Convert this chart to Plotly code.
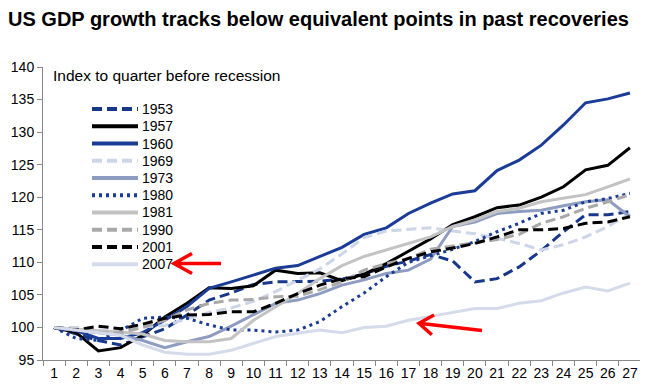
import plotly.graph_objects as go

# ---------------- data ----------------
quarters = [str(i) for i in range(1, 28)]
y_ticks = [95, 100, 105, 110, 115, 120, 125, 130, 135, 140]

s1953 = [100, 99, 98, 97.3, 98.6, 99.8, 101.9, 104.2, 105.3, 106.6, 107, 107, 107.1, 107.4, 108.2, 109.4, 110.2, 111.2, 110.2, 107, 107.5, 109.3, 111.8, 114.7, 117.3, 117.3, 117.8]
s1957 = [100, 99.2, 96.4, 96.9, 98.8, 101.6, 103.7, 106.1, 106, 106.4, 108.8, 108.3, 108.4, 107.2, 108.2, 109.8, 111.7, 113.6, 115.8, 117, 118.4, 118.8, 120, 121.6, 124.2, 124.9, 127.6]
s1960 = [100, 99.5, 98.3, 98.3, 99.2, 101.1, 103.2, 106, 107, 108.1, 109.1, 109.5, 110.9, 112.3, 114.3, 115.3, 117.5, 119.1, 120.5, 121, 124.1, 125.7, 128, 131.1, 134.5, 135.1, 136]
s1969 = [100, 100, 99.6, 99.3, 100.1, 100.3, 101.3, 102.3, 103, 104, 105.5, 107.2, 109, 111.3, 113.8, 114.8, 115, 115.3, 114.8, 114.4, 113.7, 112.9, 111.9, 112.7, 113.9, 115.5, 117.5]
s1973 = [100, 99.6, 99.2, 98.8, 98, 96.9, 97.8, 98.6, 100.2, 102, 103.7, 104.2, 105.2, 106.5, 107.3, 108.3, 108.8, 110.5, 115.5, 116.2, 117.5, 117.8, 118, 118.7, 119.3, 119.6, 117]
s1980 = [100, 98.3, 98, 99.5, 101.4, 101.6, 101.4, 100.4, 99.6, 99.6, 99.3, 99.6, 100.9, 103.2, 105.3, 107.8, 110, 111, 112, 113.2, 114.7, 116, 117.5, 118, 119.3, 119.8, 120.6]
s1981 = [100, 99.7, 99.5, 99.3, 99, 98, 97.8, 97.8, 98.3, 101.1, 103.2, 105.2, 107.5, 109.5, 110.9, 111.9, 112.9, 113.9, 115.5, 116.5, 117.8, 118.3, 119.3, 119.8, 120.4, 121.6, 122.8]
s1990 = [100, 99.6, 99.2, 99.2, 100, 101.1, 102.7, 103.7, 104.2, 104.3, 104.7, 104.8, 105.8, 107, 108.8, 109.8, 110.6, 112, 112.5, 113, 113.5, 114.3, 116, 117, 118.3, 119.3, 120.4]
s2001 = [100, 99.6, 100.2, 99.8, 100.5, 101.4, 101.9, 102, 102.4, 102.4, 103.7, 105.2, 106.5, 107.5, 107.8, 109.3, 110.6, 111.6, 112.2, 112.9, 113.9, 115, 115, 115.2, 116, 116.2, 117]
s2007 = [100, 99.6, 99.3, 98.8, 97.3, 96.2, 95.9, 95.9, 96.5, 97.6, 98.6, 99.1, 99.6, 99.2, 100, 100.2, 101.1, 101.7, 102.3, 102.9, 102.9, 103.7, 104.1, 105.3, 106.2, 105.6, 106.8]

series_names = ["1953", "1957", "1960", "1969", "1973", "1980", "1981", "1990", "2001", "2007"]
series_values = [s1953, s1957, s1960, s1969, s1973, s1980, s1981, s1990, s2001, s2007]

title_text = "US GDP growth tracks below equivalent points in past recoveries"
index_note = "Index to quarter before recession"

# ---------------- styles ----------------
DASH = "10px,5px"
DOT = "3px,4px"
styles = {
    "1953": dict(color="#17378a", dash=DASH, width=3),
    "1957": dict(color="#000000", dash="solid", width=3),
    "1960": dict(color="#1a3c96", dash="solid", width=3),
    "1969": dict(color="#cdd5e8", dash=DASH, width=3),
    "1973": dict(color="#8d9cc0", dash="solid", width=3),
    "1980": dict(color="#1a3c96", dash=DOT, width=3),
    "1981": dict(color="#c3c3c3", dash="solid", width=3),
    "1990": dict(color="#a9a9a9", dash=DASH, width=3),
    "2001": dict(color="#000000", dash=DASH, width=3),
    "2007": dict(color="#d5dbeb", dash="solid", width=3),
}

# the page body has an 8px margin, so the figure is shifted by that much
PAGE_W, PAGE_H, OFF = 648, 391, 8
W, H = PAGE_W - OFF, PAGE_H - OFF
# plot area in page pixels
PL, PR, PT, PB = 43, 641, 67, 360
L, R, T, B = PL - OFF, PAGE_W - PR, PT - OFF, PAGE_H - PB


def px(x):  # page pixel -> paper
    return (x - PL) / (PR - PL)


def py(y):
    return (PB - y) / (PB - PT)


FONT = "Arial, Liberation Sans, sans-serif"

fig = go.Figure()
for name, vals in zip(series_names, series_values):
    st = styles[name]
    fig.add_trace(go.Scatter(
        x=quarters, y=vals, mode="lines", name=name, showlegend=False,
        line=dict(color=st["color"], dash=st["dash"], width=st["width"]),
        hoverinfo="x+y+name",
    ))

shapes = []
annotations = []

# manual legend (matches the compact spacing of the original)
leg_x0, leg_x1, leg_tx = 92, 138, 140
leg_y0, leg_dy = 109, 17.25
for i, name in enumerate(series_names):
    st = styles[name]
    yy = leg_y0 + i * leg_dy
    shapes.append(dict(type="line", xref="paper", yref="paper",
                       x0=px(leg_x0), x1=px(leg_x1), y0=py(yy), y1=py(yy),
                       line=dict(color=st["color"], width=4, dash=st["dash"])))
    annotations.append(dict(xref="paper", yref="paper", x=px(leg_tx), y=py(yy),
                            text=name, showarrow=False, xanchor="left", yanchor="middle",
                            font=dict(family=FONT, size=14, color="#000")))

annotations.append(dict(xref="paper", yref="paper", x=px(51), y=py(75.5),
                        text=index_note, showarrow=False, xanchor="left", yanchor="middle",
                        font=dict(family=FONT, size=15.5, color="#000")))


def arrow(tail, head, arm_back, arm_side):
    (tx, ty), (hx, hy) = tail, head
    dx, dy = hx - tx, hy - ty
    n = (dx * dx + dy * dy) ** 0.5
    ux, uy = dx / n, dy / n
    pxv, pyv = -uy, ux
    a1 = (hx - ux * arm_back + pxv * arm_side, hy - uy * arm_back + pyv * arm_side)
    a2 = (hx - ux * arm_back - pxv * arm_side, hy - uy * arm_back - pyv * arm_side)
    pts = lambda p: f"{px(p[0]):.5f},{py(p[1]):.5f}"
    path = (f"M {pts((tx, ty))} L {pts((hx, hy))} "
            f"M {pts(a1)} L {pts((hx, hy))} L {pts(a2)}")
    return dict(type="path", xref="paper", yref="paper", path=path,
                line=dict(color="#ff0000", width=3.5))


shapes.append(arrow((221, 263.5), (174, 263.5), 18, 10))
shapes.append(arrow((482, 330.5), (419, 323.3), 14, 10))

fig.update_layout(
    width=W, height=H,
    margin=dict(l=L, r=R, t=T, b=B, autoexpand=False),
    paper_bgcolor="white", plot_bgcolor="white",
    font=dict(family=FONT, size=14, color="#000"),
    title=dict(text=f"<b>{title_text}</b>", x=0, xref="container", xanchor="left",
               y=1 - (18.5 - OFF) / H, yref="container", yanchor="middle",
               font=dict(family=FONT, size=20, color="#000")),
    xaxis=dict(type="category", range=[-0.5, len(quarters) - 0.5],
               tickson="boundaries", ticks="outside", ticklen=5,
               tickcolor="#888888", showline=True, linecolor="#888888", linewidth=1,
               showgrid=False, zeroline=False, tickfont=dict(size=14), tickangle=0,
               automargin=False),
    yaxis=dict(range=[95, 140], tickvals=y_ticks, ticks="outside", ticklen=5,
               tickcolor="#888888", showline=True, linecolor="#888888", linewidth=1,
               showgrid=False, zeroline=False, tickfont=dict(size=14), automargin=False),
    shapes=shapes,
    annotations=annotations,
    showlegend=False,
)

fig.write_html("out.html")
